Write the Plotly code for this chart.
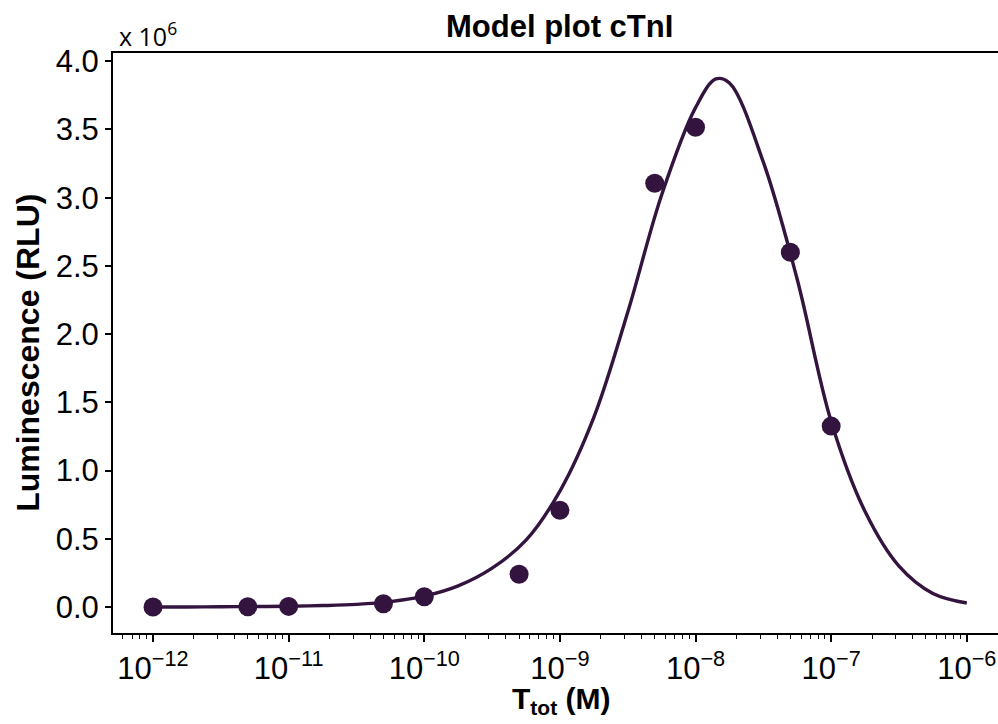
import plotly.graph_objects as go

# Measured data (concentration in M, luminescence in units of 10^6 RLU)
conc = [1e-12, 5e-12, 1e-11, 5e-11, 1e-10, 5e-10, 1e-9, 5e-9, 1e-8, 5e-8, 1e-7]
lum = [0.0, 0.003, 0.005, 0.025, 0.075, 0.24, 0.71, 3.105, 3.516, 2.60, 1.326]

# Model curve (log10 concentration, luminescence 10^6 RLU)
model_logx = [-12.0, -11.75, -11.5, -11.25, -11.0, -10.75, -10.5, -10.25, -10.0,
              -9.75, -9.5, -9.25, -9.0, -8.75, -8.5, -8.25, -8.0, -7.85, -7.75,
              -7.5, -7.25, -7.0, -6.75, -6.5, -6.25, -6.0]
model_y = [0.000, 0.001, 0.002, 0.004, 0.006, 0.011, 0.020, 0.040, 0.080,
           0.155, 0.285, 0.49, 0.85, 1.39, 2.16, 3.02, 3.66, 3.87, 3.84,
           3.26, 2.40, 1.36, 0.70, 0.30, 0.10, 0.03]

major_exp = [-12, -11, -10, -9, -8, -7, -6]
major_text = ["10<sup>\u2212%d</sup>" % (-e) for e in major_exp]
y_ticks = [0, 0.5, 1.0, 1.5, 2.0, 2.5, 3.0, 3.5, 4.0]
y_text = ["0.0", "0.5", "1.0", "1.5", "2.0", "2.5", "3.0", "3.5", "4.0"]

color = "#33143f"
font = "Liberation Sans, Arial, sans-serif"

minor_vals = [m * 10.0 ** e for e in range(-13, -5) for m in range(2, 10)]

fig = go.Figure()
fig.add_trace(go.Scatter(
    x=[10 ** v for v in model_logx], y=model_y, mode="lines",
    line=dict(color=color, width=3.4, shape="spline", smoothing=1.0),
    hoverinfo="skip", showlegend=False))
fig.add_trace(go.Scatter(
    x=conc, y=lum, mode="markers",
    marker=dict(color=color, size=19, line=dict(width=0)),
    showlegend=False))

fig.update_layout(
    width=998, height=724,
    margin=dict(l=113, r=0, t=53, b=91),
    paper_bgcolor="white", plot_bgcolor="white",
    font=dict(family=font, color="black"),
    annotations=[
        dict(text="<b>Model plot cTnI</b>", xref="paper", yref="paper",
             x=0.505, y=1 + 27 / 580, xanchor="center", yanchor="middle",
             showarrow=False, font=dict(size=31, family=font, color="black")),
        dict(text="x 10<sup>6</sup>", xref="paper", yref="paper",
             x=0.004, y=1.0, xanchor="left", yanchor="bottom",
             showarrow=False, yshift=-2,
             font=dict(size=25, family="Open Sans, sans-serif", color="black")),
        dict(text="<b>Luminescence (RLU)</b>", xref="paper", yref="paper",
             x=-85 / 885, y=0.483, xanchor="center", yanchor="middle",
             textangle=-90, showarrow=False,
             font=dict(size=32, family=font, color="black")),
        dict(text="<b>T<sub>tot</sub> (M)</b>", xref="paper", yref="paper",
             x=0.506, y=-47 / 580, xanchor="center", yanchor="top",
             showarrow=False, font=dict(size=30, family=font, color="black")),
    ],
)

fig.update_xaxes(
    type="log", range=[-12.295, -5.77],
    tickvals=[10.0 ** e for e in major_exp], ticktext=major_text,
    ticks="outside", ticklen=7, tickwidth=1.5, tickcolor="black",
    showline=True, linecolor="black", linewidth=2, mirror=True,
    showgrid=False, zeroline=False,
    tickfont=dict(size=31, family=font),
    minor=dict(tickvals=minor_vals, ticks="outside", ticklen=4, tickwidth=1.2,
               tickcolor="black", showgrid=False),
)
fig.update_yaxes(
    range=[-0.19, 4.06],
    tickvals=y_ticks, ticktext=y_text,
    ticks="outside", ticklen=6, tickwidth=1.5, tickcolor="black",
    showline=True, linecolor="black", linewidth=2,
    showgrid=False, zeroline=False,
    tickfont=dict(size=31, family=font),
)

fig.write_html("out.html", config={"displayModeBar": False},
               post_script="document.body.style.margin='0';")
